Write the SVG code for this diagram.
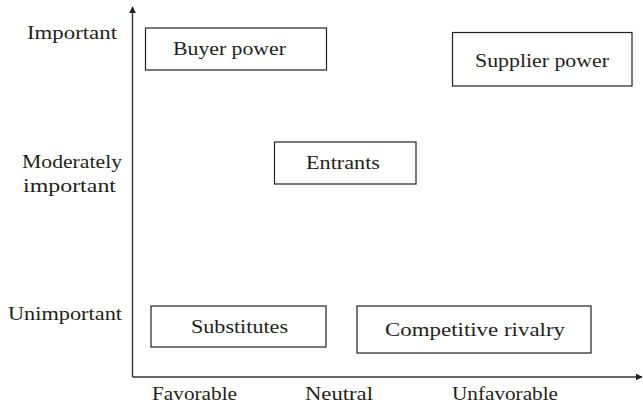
<svg xmlns="http://www.w3.org/2000/svg" width="643" height="408" viewBox="0 0 643 408">
  <style>
    text { font-family: "Liberation Serif", "Times New Roman", serif; font-size: 19px; fill: #231f20; }
    .box { fill: #ffffff; stroke: #231f20; stroke-width: 1.2; }
    .axis { fill: none; stroke: #333333; stroke-width: 1.4; }
  </style>
  <defs>
    <marker id="arrow" viewBox="0 0 10 10" refX="9" refY="5" markerWidth="7" markerHeight="7" markerUnits="userSpaceOnUse" orient="auto">
      <path d="M0,0 L10,5 L0,10 z" fill="#231f20"/>
    </marker>
  </defs>
  <rect width="643" height="408" fill="#ffffff"/>

  <!-- axes -->
  <g id="connectors">
    <path class="axis" d="M132.5,377 L132.5,7" marker-end="url(#arrow)"/>
    <path class="axis" d="M132.5,377 L642,377" marker-end="url(#arrow)"/>
  </g>

  <!-- axis labels -->
  <g id="y-labels">
    <text x="27" y="39" textLength="90" lengthAdjust="spacingAndGlyphs">Important</text>
    <text x="22" y="168" textLength="100" lengthAdjust="spacingAndGlyphs">Moderately</text>
    <text x="23" y="192" textLength="93" lengthAdjust="spacingAndGlyphs">important</text>
    <text x="8" y="320" textLength="114" lengthAdjust="spacingAndGlyphs">Unimportant</text>
  </g>
  <g id="x-labels">
    <text x="152" y="400" textLength="85" lengthAdjust="spacingAndGlyphs">Favorable</text>
    <text x="305" y="400" textLength="68" lengthAdjust="spacingAndGlyphs">Neutral</text>
    <text x="452" y="400" textLength="106" lengthAdjust="spacingAndGlyphs">Unfavorable</text>
  </g>

  <!-- forces -->
  <g id="buyer-power">
    <rect class="box" x="145.5" y="28" width="181" height="42"/>
    <text x="173" y="55" textLength="113" lengthAdjust="spacingAndGlyphs">Buyer power</text>
  </g>
  <g id="supplier-power">
    <rect class="box" x="452.5" y="32.5" width="179.5" height="53.5"/>
    <text x="475" y="67" textLength="134" lengthAdjust="spacingAndGlyphs">Supplier power</text>
  </g>
  <g id="entrants">
    <rect class="box" x="274.5" y="142" width="141.5" height="42"/>
    <text x="306" y="169" textLength="74" lengthAdjust="spacingAndGlyphs">Entrants</text>
  </g>
  <g id="substitutes">
    <rect class="box" x="151" y="306" width="175" height="41"/>
    <text x="191" y="333" textLength="97" lengthAdjust="spacingAndGlyphs">Substitutes</text>
  </g>
  <g id="competitive-rivalry">
    <rect class="box" x="357" y="306" width="234" height="47"/>
    <text x="385" y="336" textLength="180" lengthAdjust="spacingAndGlyphs">Competitive rivalry</text>
  </g>
</svg>
